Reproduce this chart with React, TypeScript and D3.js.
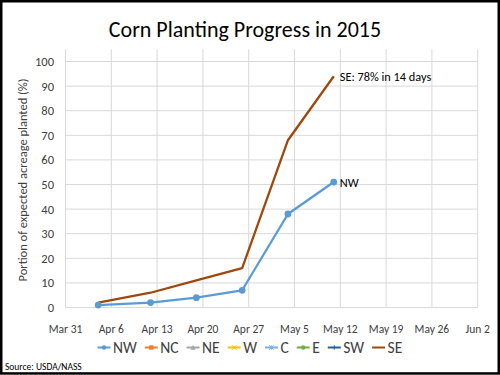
import React, { useMemo } from "react";
import * as d3 from "d3";

const titleText = "Corn Planting Progress in 2015";
const yAxisTitle = "Portion of expected acreage planted (%)";
const sourceText = "Source: USDA/NASS";
const tickLabels = ["Mar 31", "Apr 6", "Apr 13", "Apr 20", "Apr 27", "May 5", "May 12", "May 19", "May 26", "Jun 2"];
const tickDays = [0, 7, 14, 21, 28, 35, 42, 49, 56, 63];
const yTicks = [0, 10, 20, 30, 40, 50, 60, 70, 80, 90, 100];
const obsDays = [5, 13, 20, 27, 34, 41];
const nwValues = [1, 2, 4, 7, 38, 51];
const seValues = [2, 6, 11, 16, 68, 94];
const seLabel = "SE: 78% in 14 days";
const nwLabel = "NW";
const legendNames = ["NW", "NC", "NE", "W", "C", "E", "SW", "SE"];
const legendColors = ["#5B9BD5", "#ED7D31", "#A5A5A5", "#FFC000", "#7EAEE0", "#70AD47", "#255E91", "#9E480E"];
const legendMarkers = ["circle", "square", "triangle", "x", "star", "circle", "plus", "none"];

const FONT = "Carlito, Lato, 'Open Sans', sans-serif";

function measure(text: string, size: number) {
  const c = document.createElement("canvas").getContext("2d");
  if (!c) return text.length * size * 0.5;
  c.font = `${size}px ${FONT}`;
  return c.measureText(text).width;
}

function Marker({ type, x, y, color }: { type: string; x: number; y: number; color: string }) {
  const s = 2.2;
  if (type === "circle") return <circle cx={x} cy={y} r={2.2} fill={color} />;
  if (type === "square") return <rect x={x - s} y={y - s} width={2 * s} height={2 * s} fill={color} />;
  if (type === "triangle")
    return <path d={`M${x},${y - s - 0.4}L${x + s + 0.4},${y + s}L${x - s - 0.4},${y + s}Z`} fill={color} />;
  if (type === "x")
    return (
      <path d={`M${x - s},${y - s}L${x + s},${y + s}M${x - s},${y + s}L${x + s},${y - s}`} stroke={color} strokeWidth={1} />
    );
  if (type === "star")
    return (
      <path
        d={`M${x - s},${y - s}L${x + s},${y + s}M${x - s},${y + s}L${x + s},${y - s}M${x},${y - s}L${x},${y + s}`}
        stroke={color}
        strokeWidth={1}
      />
    );
  if (type === "plus")
    return <path d={`M${x - s},${y}L${x + s},${y}M${x},${y - s}L${x},${y + s}`} stroke={color} strokeWidth={1} />;
  return null;
}

export default function App() {
  const W = 500;
  const H = 375;
  const x = d3.scaleLinear().domain([0, 63]).range([65.5, 477.7]);
  const y = d3.scaleLinear().domain([0, 105]).range([307.5, 49.2]);

  const line = d3
    .line<[number, number]>()
    .x((d) => x(d[0]))
    .y((d) => y(d[1]));

  const nwData: [number, number][] = obsDays.map((d, i) => [d, nwValues[i]]);
  const seData: [number, number][] = obsDays.map((d, i) => [d, seValues[i]]);

  const legendSize = 15.5;
  const legendLayout = useMemo(() => {
    let cx = 97.5;
    return legendNames.map((n) => {
      const start = cx;
      const tw = measure(n, legendSize);
      cx = start + 15.5 + tw + 8;
      return { start, tw };
    });
  }, []);

  const lastIdx = obsDays.length - 1;

  return (
    <svg
      width={W}
      height={H}
      style={{ position: "absolute", left: 0, top: 0, background: "#fff" }}
      fontFamily={FONT}
    >
      <rect x={0} y={0} width={W} height={H} fill="#fff" />
      <rect x={1.25} y={1.25} width={W - 2.5} height={H - 2.8} fill="none" stroke="#000" strokeWidth={2.5} />

      <text x={245} y={36.5} textAnchor="middle" fontSize={22} fill="#000">
        {titleText}
      </text>

      {/* vertical gridlines */}
      {tickDays.map((d) => (
        <line key={"vg" + d} x1={x(d)} x2={x(d)} y1={y(105)} y2={y(0)} stroke="#D9D9D9" strokeWidth={1} />
      ))}
      {/* horizontal gridlines */}
      {yTicks.map((t) => (
        <line key={"hg" + t} x1={x(0)} x2={x(63)} y1={y(t)} y2={y(t)} stroke="#D9D9D9" strokeWidth={1} />
      ))}

      {/* y tick labels */}
      {yTicks.map((t) => (
        <text key={"yt" + t} x={54} y={y(t) + 4.4} textAnchor="end" fontSize={12.5} fill="#404040">
          {t}
        </text>
      ))}
      {/* x tick labels */}
      {tickDays.map((d, i) => (
        <text key={"xt" + d} x={x(d)} y={333} textAnchor="middle" fontSize={11.5} fill="#404040">
          {tickLabels[i]}
        </text>
      ))}

      <text
        transform={`translate(27,180) rotate(-90)`}
        textAnchor="middle"
        fontSize={12.5}
        fill="#404040"
      >
        {yAxisTitle}
      </text>

      {/* series */}
      <path d={line(seData) || ""} fill="none" stroke="#9E480E" strokeWidth={2.3} strokeLinejoin="round" />
      <path d={line(nwData) || ""} fill="none" stroke="#5B9BD5" strokeWidth={2.3} strokeLinejoin="round" />
      {nwData.map((d, i) => (
        <circle key={"nwp" + i} cx={x(d[0])} cy={y(d[1])} r={3.4} fill="#5B9BD5" />
      ))}

      <text x={x(obsDays[lastIdx]) + 6} y={y(seValues[lastIdx]) + 4.5} fontSize={12.3} fill="#000">
        {seLabel}
      </text>
      <text x={x(obsDays[lastIdx]) + 6} y={y(nwValues[lastIdx]) + 4.5} fontSize={12.3} fill="#000">
        {nwLabel}
      </text>

      {/* legend */}
      {legendNames.map((n, i) => {
        const { start } = legendLayout[i];
        const cy = 347.5;
        return (
          <g key={"lg" + n}>
            <line x1={start} x2={start + 13} y1={cy} y2={cy} stroke={legendColors[i]} strokeWidth={2} />
            <Marker type={legendMarkers[i]} x={start + 6.5} y={cy} color={legendColors[i]} />
            <text x={start + 15.5} y={353.3} fontSize={legendSize} fill="#404040">
              {n}
            </text>
          </g>
        );
      })}

      <text x={5} y={370} fontSize={9.5} fill="#000">
        {sourceText}
      </text>
    </svg>
  );
}
